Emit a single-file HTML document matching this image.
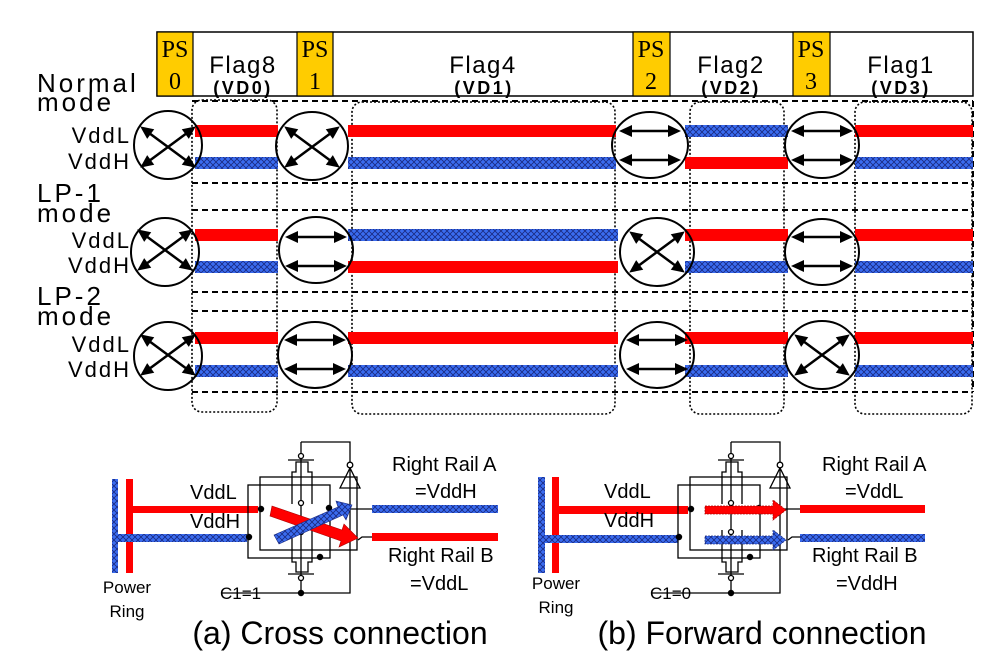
<!DOCTYPE html>
<html><head><meta charset="utf-8"><style>
body{margin:0;background:#fff;}
svg{display:block;font-family:"Liberation Sans",sans-serif;}
</style></head><body>
<svg width="1000" height="669" viewBox="0 0 1000 669" xmlns="http://www.w3.org/2000/svg">
<defs>
<pattern id="hx" width="6" height="6" patternUnits="userSpaceOnUse">
<rect width="6" height="6" fill="#3a6cf0"/>
<path d="M0 0L6 6M6 0L0 6" stroke="#1a2a80" stroke-width="0.8"/>
</pattern>
<path id="hd" d="M1 0L-12 -6L-12 6Z" fill="#000"/>
<g id="cross">
<path d="M-23 -17L23 17M-23 17L23 -17" stroke="#000" stroke-width="2.5"/>
<use href="#hd" transform="translate(27,20) rotate(36)"/>
<use href="#hd" transform="translate(-27,-20) rotate(216)"/>
<use href="#hd" transform="translate(27,-20) rotate(-36)"/>
<use href="#hd" transform="translate(-27,20) rotate(144)"/>
</g>
<g id="fwd">
<path d="M-24 -12L24 -12M-24 17L24 17" stroke="#000" stroke-width="2.5"/>
<use href="#hd" transform="translate(30,-12)"/>
<use href="#hd" transform="translate(-30,-12) rotate(180)"/>
<use href="#hd" transform="translate(30,17)"/>
<use href="#hd" transform="translate(-30,17) rotate(180)"/>
</g>
<g id="ckt" fill="none" stroke="#000" stroke-width="1.3">
<rect x="248" y="485" width="82" height="73"/>
<rect x="260" y="477" width="97" height="73"/>
<path d="M292 504V472H296V462H308V472H312V504M288 460H314"/>
<path d="M301 442V593M301 442H350V593H222"/>
<path d="M292 530V562H296V572H308V562H312V530M288 574H314"/>
<path d="M340 488L350 468L360 488Z"/>
<circle cx="350" cy="465" r="2.8" fill="#fff"/>
<circle cx="301" cy="456" r="2.5" fill="#fff"/>
<circle cx="301" cy="503" r="2.5" fill="#fff"/>
<circle cx="301" cy="532" r="2.5" fill="#fff"/>
<circle cx="301" cy="578" r="2.5" fill="#fff"/>
<path d="M350 509H372M358 540L362 537H372"/>
<g fill="#000" stroke="none">
<circle cx="261" cy="509" r="3.2"/><circle cx="249" cy="537" r="3.2"/>
<circle cx="329" cy="508" r="3.2"/><circle cx="320" cy="557" r="3.2"/>
<circle cx="301" cy="593" r="3.2"/>
</g>
</g>
</defs>

<!-- top bar -->
<rect x="157" y="32" width="816" height="64" fill="#fff" stroke="#000" stroke-width="1.5"/>
<g fill="#FFCC00" stroke="#000" stroke-width="1.2">
<rect x="157" y="32" width="36" height="64"/><rect x="297" y="32" width="36" height="64"/>
<rect x="633" y="32" width="37" height="64"/><rect x="793" y="32" width="37" height="64"/>
</g>
<g font-family="Liberation Serif,serif" font-size="24" text-anchor="middle" fill="#000">
<text x="175" y="57">PS</text><text x="175" y="89">0</text>
<text x="315" y="57">PS</text><text x="315" y="89">1</text>
<text x="651" y="57">PS</text><text x="651" y="89">2</text>
<text x="811" y="57">PS</text><text x="811" y="89">3</text>
</g>
<g font-size="24" text-anchor="middle" letter-spacing="1.5">
<text x="243" y="73">Flag8</text><text x="483" y="73">Flag4</text>
<text x="731" y="73">Flag2</text><text x="901" y="73">Flag1</text>
</g>
<g font-size="18" font-weight="bold" text-anchor="middle" letter-spacing="2.5">
<text x="243" y="94">(VD0)</text><text x="484" y="94">(VD1)</text>
<text x="731" y="94">(VD2)</text><text x="901" y="94">(VD3)</text>
</g>

<!-- mode labels -->
<g font-size="26" letter-spacing="3">
<text x="37" y="92">Normal</text><text x="37" y="111">mode</text>
<text x="37" y="202">LP-1</text><text x="37" y="222">mode</text>
<text x="37" y="305">LP-2</text><text x="37" y="325">mode</text>
</g>
<g font-size="22" text-anchor="end" letter-spacing="2">
<text x="131" y="143">VddL</text><text x="131" y="169">VddH</text>
<text x="131" y="248">VddL</text><text x="131" y="273">VddH</text>
<text x="131" y="352">VddL</text><text x="131" y="377">VddH</text>
</g>

<!-- dashed lines -->
<g stroke="#000" stroke-width="2" stroke-dasharray="6,4" fill="none">
<path d="M192 101H973M192 183H973M192 210H973M192 292H973M192 311H973M192 392H973"/>
<path d="M973 101V392"/>
</g>
<g stroke="#000" stroke-width="1.6" stroke-dasharray="2,2" fill="none">
<rect x="192" y="100" width="85" height="312" rx="10"/>
<rect x="352" y="102" width="263" height="312" rx="10"/>
<rect x="690" y="102" width="94" height="312" rx="10"/>
<rect x="855" y="102" width="117" height="312" rx="10"/>
</g>

<!-- rails -->
<g>
<rect x="195" y="125" width="83" height="12" fill="#f00"/><rect x="195" y="157" width="83" height="12" fill="url(#hx)"/>
<rect x="348" y="125" width="268" height="12" fill="#f00"/><rect x="348" y="157" width="268" height="12" fill="url(#hx)"/>
<rect x="685" y="125" width="103" height="12" fill="url(#hx)"/><rect x="685" y="157" width="103" height="12" fill="#f00"/>
<rect x="855" y="125" width="118" height="12" fill="#f00"/><rect x="855" y="157" width="118" height="12" fill="url(#hx)"/>
<rect x="195" y="229" width="83" height="12" fill="#f00"/><rect x="195" y="261" width="83" height="12" fill="url(#hx)"/>
<rect x="348" y="229" width="270" height="12" fill="url(#hx)"/><rect x="348" y="261" width="270" height="12" fill="#f00"/>
<rect x="685" y="229" width="103" height="12" fill="#f00"/><rect x="685" y="261" width="103" height="12" fill="url(#hx)"/>
<rect x="855" y="229" width="118" height="12" fill="#f00"/><rect x="855" y="261" width="118" height="12" fill="url(#hx)"/>
<rect x="195" y="332" width="83" height="12" fill="#f00"/><rect x="195" y="365" width="83" height="12" fill="url(#hx)"/>
<rect x="348" y="332" width="270" height="12" fill="#f00"/><rect x="348" y="365" width="270" height="12" fill="url(#hx)"/>
<rect x="685" y="332" width="103" height="12" fill="#f00"/><rect x="685" y="365" width="103" height="12" fill="url(#hx)"/>
<rect x="855" y="332" width="118" height="12" fill="#f00"/><rect x="855" y="365" width="118" height="12" fill="url(#hx)"/>
</g>

<!-- switches -->
<g fill="none" stroke="#000" stroke-width="2">
<ellipse cx="168" cy="145" rx="34" ry="34"/><ellipse cx="312" cy="146" rx="36" ry="34"/>
<ellipse cx="650" cy="145" rx="38" ry="33"/><ellipse cx="822" cy="145" rx="37" ry="33"/>
<ellipse cx="165" cy="252" rx="34" ry="34"/><ellipse cx="316" cy="250" rx="37" ry="33"/>
<ellipse cx="657" cy="252" rx="37" ry="34"/><ellipse cx="822" cy="252" rx="37" ry="33"/>
<ellipse cx="168" cy="356" rx="34" ry="34"/><ellipse cx="315" cy="355" rx="37" ry="33"/>
<ellipse cx="657" cy="355" rx="37" ry="33"/><ellipse cx="822" cy="355" rx="37" ry="34"/>
</g>
<use href="#cross" x="168" y="147"/><use href="#cross" x="312" y="147"/>
<use href="#fwd" x="650" y="143"/><use href="#fwd" x="822" y="143"/>
<use href="#cross" x="165" y="250"/><use href="#fwd" x="316" y="249"/>
<use href="#cross" x="657" y="252"/><use href="#fwd" x="822" y="249"/>
<use href="#cross" x="168" y="355"/><use href="#fwd" x="315" y="352"/>
<use href="#fwd" x="657" y="352"/><use href="#cross" x="822" y="355"/>

<!-- schematic a -->
<rect x="112" y="479" width="6" height="94" fill="url(#hx)"/>
<rect x="126" y="479" width="7" height="94" fill="#f00"/>
<rect x="133" y="506" width="125" height="7" fill="#f00"/>
<rect x="118" y="534" width="129" height="8" fill="url(#hx)"/>
<use href="#ckt"/>
<rect x="372" y="505" width="126" height="8" fill="url(#hx)"/>
<rect x="372" y="533" width="126" height="8" fill="#f00"/>
<path d="M272 506L342 530L344 524L358 538L339 547L341 541L270 516Z" fill="#f00" stroke="#a00" stroke-width="0.6"/>
<path d="M274 535L338 507L336 501L352 505L346 520L343 515L279 544Z" fill="url(#hx)" stroke="#1a2a80" stroke-width="0.6"/>
<g font-size="20">
<text x="190" y="499">VddL</text><text x="190" y="528">VddH</text>
<text x="392" y="471">Right Rail A</text><text x="415" y="498">=VddH</text>
<text x="388" y="562">Right Rail B</text><text x="410" y="590">=VddL</text>
<text x="220" y="599" font-size="17">C1=1</text>
</g>
<g font-size="17" text-anchor="middle"><text x="127" y="593">Power</text><text x="127" y="617">Ring</text></g>
<text x="340" y="644" font-size="32" text-anchor="middle">(a) Cross connection</text>

<!-- schematic b -->
<rect x="538" y="477" width="7" height="96" fill="url(#hx)"/>
<rect x="552" y="477" width="7" height="96" fill="#f00"/>
<rect x="559" y="506" width="129" height="8" fill="#f00"/>
<rect x="545" y="535" width="133" height="8" fill="url(#hx)"/>
<use href="#ckt" x="430"/>
<rect x="800" y="505" width="125" height="8" fill="#f00"/>
<rect x="800" y="534" width="125" height="8" fill="url(#hx)"/>
<path d="M705 506H773V500L786 510L773 520V514H705Z" fill="#f00" stroke="#a00" stroke-width="0.8" stroke-dasharray="2,1"/>
<path d="M705 536H773V530L786 540L773 550V544H705Z" fill="url(#hx)" stroke="#1a2a80" stroke-width="0.8" stroke-dasharray="2,1"/>
<g font-size="20">
<text x="604" y="498">VddL</text><text x="604" y="527">VddH</text>
<text x="822" y="471">Right Rail A</text><text x="845" y="498">=VddL</text>
<text x="812" y="562">Right Rail B</text><text x="836" y="590">=VddH</text>
<text x="650" y="599" font-size="17">C1=0</text>
</g>
<g font-size="17" text-anchor="middle"><text x="556" y="589">Power</text><text x="556" y="613">Ring</text></g>
<text x="762" y="644" font-size="32" text-anchor="middle">(b) Forward connection</text>
</svg>
</body></html>
